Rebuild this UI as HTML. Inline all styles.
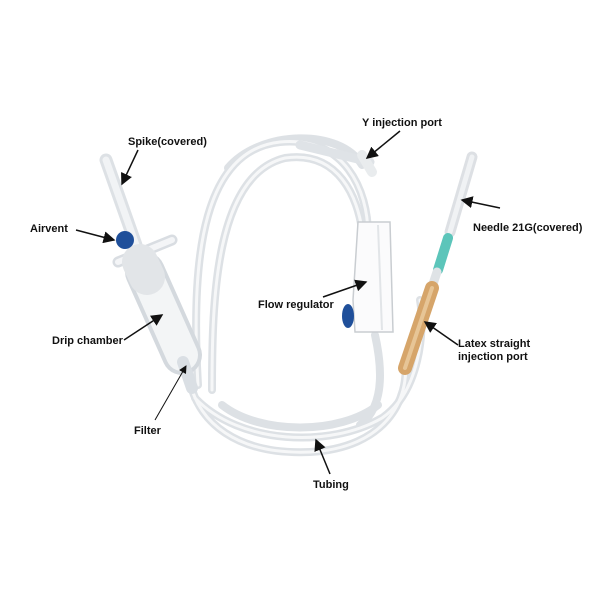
<!DOCTYPE html>
<html><head><meta charset="utf-8"><style>
html,body{margin:0;padding:0;background:#fff;}
svg{display:block}
text{font-family:"Liberation Sans",Arial,sans-serif;font-weight:bold;font-size:11px;fill:#111}
</style></head><body>
<svg width="600" height="600" viewBox="0 0 600 600" xmlns="http://www.w3.org/2000/svg">
<defs>
<marker id="a" markerWidth="8" markerHeight="8" refX="7" refY="4" orient="auto"><path d="M0,0 L8,4 L0,8 z" fill="#111"/></marker>
</defs>
<rect width="600" height="600" fill="#fff"/>
<g fill="none" stroke-linecap="round">
<g stroke="#dde1e5" stroke-width="8">
<path d="M188,372 C195,425 240,455 310,452 C385,448 410,400 405,360"/>
<path d="M198,385 C190,250 205,150 280,142 C345,136 368,190 368,235"/>
<path d="M212,390 C212,300 215,175 285,158 C340,150 358,200 362,230"/>
<path d="M195,398 C240,445 330,448 382,418 C420,392 425,330 420,300"/>
<path d="M222,405 C260,435 340,435 378,405"/>
<path d="M228,168 C260,130 340,128 362,165"/>
<path d="M375,335 C385,380 380,410 360,425"/>
</g>
<g stroke="#f6f7f8" stroke-width="3">
<path d="M188,372 C195,425 240,455 310,452 C385,448 410,400 405,360"/>
<path d="M198,385 C190,250 205,150 280,142 C345,136 368,190 368,235"/>
<path d="M212,390 C212,300 215,175 285,158 C340,150 358,200 362,230"/>
<path d="M195,398 C240,445 330,448 382,418 C420,392 425,330 420,300"/>
</g>
<path d="M300,145 L370,162" stroke="#dfe3e7" stroke-width="9"/>
<path d="M362,155 L372,172" stroke="#e9ecee" stroke-width="10"/>
<path d="M106,160 L136,245" stroke="#dde1e5" stroke-width="13"/>
<path d="M106,160 L136,245" stroke="#f1f3f5" stroke-width="7"/>
<path d="M118,262 L172,240" stroke="#d9dde2" stroke-width="11"/>
<path d="M118,262 L172,240" stroke="#f4f5f7" stroke-width="6"/>
<path d="M145,272 L182,355" stroke="#d4d9de" stroke-width="40"/>
<path d="M145,272 L182,355" stroke="#f3f5f6" stroke-width="32"/>
<path d="M140,262 L147,277" stroke="#e2e5e8" stroke-width="36"/>
<path d="M183,362 L192,388" stroke="#dadfe4" stroke-width="12"/>
<path d="M472,157 L450,232" stroke="#dde0e4" stroke-width="11"/>
<path d="M472,157 L450,232" stroke="#f0f2f4" stroke-width="5"/>
<path d="M448,238 L438,270" stroke="#5cc5ba" stroke-width="10"/>
<path d="M437,272 L433,284" stroke="#dfe3e6" stroke-width="9"/>
<path d="M432,288 L405,368" stroke="#d6a56a" stroke-width="14"/>
<path d="M432,288 L405,368" stroke="#e7c596" stroke-width="4"/>
</g>
<path d="M358,222 L390,222 L393,332 L355,332 L353,300 Z" fill="#fbfbfc" stroke="#c9cdd1" stroke-width="1.5"/>
<path d="M378,225 L382,330" stroke="#e2e5e8" stroke-width="2"/>
<circle cx="125" cy="240" r="9" fill="#1f4f9a"/>
<ellipse cx="348" cy="316" rx="6" ry="12" fill="#1f4f9a"/>
<g stroke="#111" stroke-width="1.5" fill="none">
<line x1="138" y1="150" x2="122" y2="184" marker-end="url(#a)"/>
<line x1="400" y1="131" x2="367" y2="158" marker-end="url(#a)"/>
<line x1="76" y1="230" x2="114" y2="240" marker-end="url(#a)"/>
<line x1="500" y1="208" x2="462" y2="200" marker-end="url(#a)"/>
<line x1="323" y1="297" x2="366" y2="282" marker-end="url(#a)"/>
<line x1="124" y1="340" x2="162" y2="315" marker-end="url(#a)"/>
<line x1="458" y1="345" x2="425" y2="322" marker-end="url(#a)"/>
<line x1="155" y1="420" x2="186" y2="366" marker-end="url(#a)" stroke-width="1"/>
<line x1="330" y1="474" x2="316" y2="440" marker-end="url(#a)"/>
</g>
<text x="128" y="145">Spike(covered)</text>
<text x="362" y="126">Y injection port</text>
<text x="30" y="232">Airvent</text>
<text x="473" y="231">Needle 21G(covered)</text>
<text x="258" y="308">Flow regulator</text>
<text x="52" y="344">Drip chamber</text>
<text x="458" y="347">Latex straight</text>
<text x="458" y="360">injection port</text>
<text x="134" y="434">Filter</text>
<text x="313" y="488">Tubing</text>
</svg>
</body></html>
